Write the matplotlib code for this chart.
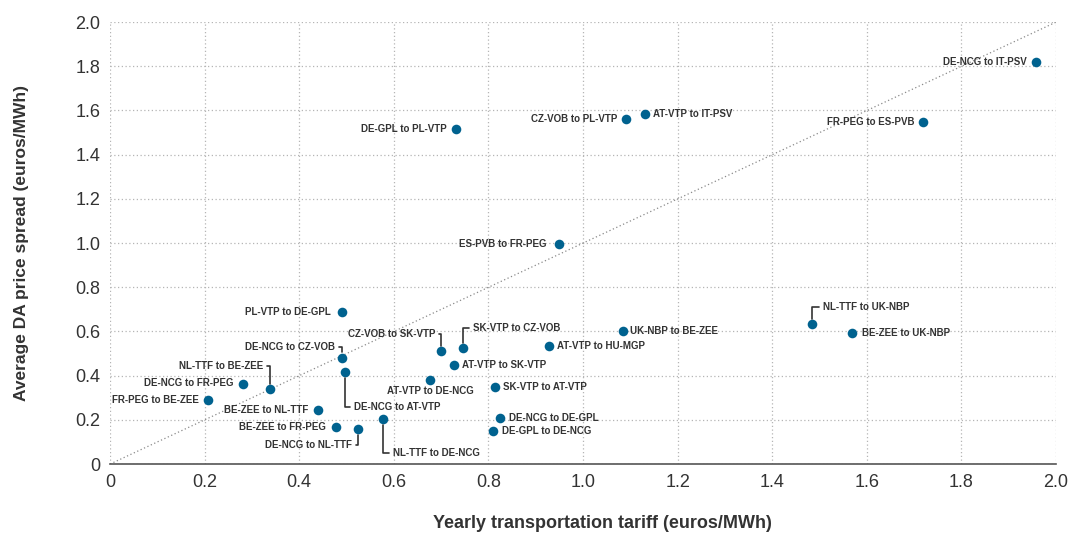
import matplotlib.pyplot as plt

plt.rcParams['font.family'] = ['Liberation Sans', 'DejaVu Sans']

# data: yearly tariff (x) vs average day-ahead spread (y)
routes = ['DE-NCG to IT-PSV', 'FR-PEG to ES-PVB', 'AT-VTP to IT-PSV', 'CZ-VOB to PL-VTP',
          'DE-GPL to PL-VTP', 'ES-PVB to FR-PEG', 'PL-VTP to DE-GPL', 'NL-TTF to UK-NBP',
          'BE-ZEE to UK-NBP', 'UK-NBP to BE-ZEE', 'AT-VTP to HU-MGP', 'SK-VTP to CZ-VOB',
          'CZ-VOB to SK-VTP', 'DE-NCG to CZ-VOB', 'AT-VTP to SK-VTP', 'DE-NCG to AT-VTP',
          'AT-VTP to DE-NCG', 'NL-TTF to BE-ZEE', 'DE-NCG to FR-PEG', 'SK-VTP to AT-VTP',
          'FR-PEG to BE-ZEE', 'BE-ZEE to NL-TTF', 'DE-NCG to DE-GPL', 'NL-TTF to DE-NCG',
          'BE-ZEE to FR-PEG', 'DE-NCG to NL-TTF', 'DE-GPL to DE-NCG']
tariff = [1.958, 1.719, 1.131, 1.091, 0.731, 0.949, 0.490, 1.484, 1.569, 1.085, 0.928, 0.746,
          0.700, 0.490, 0.727, 0.497, 0.677, 0.338, 0.281, 0.814, 0.207, 0.440, 0.825, 0.577,
          0.478, 0.524, 0.810]
spread = [1.819, 1.548, 1.584, 1.561, 1.516, 0.995, 0.688, 0.633, 0.593, 0.602, 0.534, 0.525,
          0.511, 0.480, 0.448, 0.416, 0.380, 0.339, 0.362, 0.348, 0.290, 0.244, 0.208, 0.204,
          0.167, 0.158, 0.149]

# label placement: (dx px, dy px, ha, leader)
place = {
    'DE-NCG to IT-PSV': (-9, 0, 'right', False), 'FR-PEG to ES-PVB': (-9, 0, 'right', False),
    'AT-VTP to IT-PSV': (8, 0, 'left', False), 'CZ-VOB to PL-VTP': (-9, 0, 'right', False),
    'DE-GPL to PL-VTP': (-9, 0, 'right', False), 'ES-PVB to FR-PEG': (-12, 0, 'right', False),
    'PL-VTP to DE-GPL': (-11, 0, 'right', False), 'NL-TTF to UK-NBP': (11, 17, 'left', True),
    'BE-ZEE to UK-NBP': (10, 0, 'left', False), 'UK-NBP to BE-ZEE': (7, 0, 'left', False),
    'AT-VTP to HU-MGP': (8, 0, 'left', False), 'SK-VTP to CZ-VOB': (10, 20, 'left', True),
    'CZ-VOB to SK-VTP': (-6, 17, 'right', True), 'DE-NCG to CZ-VOB': (-7, 11, 'right', True),
    'AT-VTP to SK-VTP': (8, 0, 'left', False), 'DE-NCG to AT-VTP': (9, -35, 'left', True),
    'AT-VTP to DE-NCG': (0, -11, 'center', False), 'NL-TTF to BE-ZEE': (-7, 23, 'right', True),
    'DE-NCG to FR-PEG': (-9, 1, 'right', False), 'SK-VTP to AT-VTP': (8, 0, 'left', False),
    'FR-PEG to BE-ZEE': (-9, 0, 'right', False), 'BE-ZEE to NL-TTF': (-10, 0, 'right', False),
    'DE-NCG to DE-GPL': (9, 0, 'left', False), 'NL-TTF to DE-NCG': (10, -34, 'left', True),
    'BE-ZEE to FR-PEG': (-10, 0, 'right', False), 'DE-NCG to NL-TTF': (-6, -16, 'right', True),
    'DE-GPL to DE-NCG': (9, 0, 'left', False),
}

fig = plt.figure(figsize=(10.7, 5.39), dpi=100)
ax = fig.add_axes([0.1028, 0.139, 0.8842, 0.82])

ax.plot([0, 2], [0, 2], linestyle=(0, (1, 2)), color='#8a8a8a', lw=0.9, zorder=1)
ax.scatter(tariff, spread, s=48, color='#00628f', zorder=3, linewidths=0)

for name, x, y in zip(routes, tariff, spread):
    dx, dy, ha, leader = place[name]
    kw = {}
    if leader:
        kw['arrowprops'] = dict(arrowstyle='-', color='#333333', lw=1.2,
                                connectionstyle='angle,angleA=0,angleB=90,rad=0',
                                relpos=(1, 0.5) if ha == 'right' else (0, 0.5),
                                shrinkA=1, shrinkB=4)
    ax.annotate(name, (x, y), xytext=(dx, dy), textcoords='offset pixels',
                ha=ha, va='center', fontsize=7, fontweight='bold', color='#333333', **kw)

ticks = [0, 0.2, 0.4, 0.6, 0.8, 1.0, 1.2, 1.4, 1.6, 1.8, 2.0]
ticklabels = ['0'] + [f'{t:.1f}' for t in ticks[1:]]
ax.set_xlim(0, 2.0)
ax.set_ylim(0, 2.0)
ax.set_xticks(ticks, ticklabels)
ax.set_yticks(ticks, ticklabels)
ax.tick_params(length=0, labelsize=13, labelcolor='#333333', pad=7)
ax.grid(True, linestyle=(0, (1, 2)), color='#b5b5b5', lw=0.9)
ax.set_axisbelow(True)
for s in ['top', 'right', 'left']:
    ax.spines[s].set_visible(False)
ax.spines['bottom'].set_color('#555555')
ax.spines['bottom'].set_linewidth(1.2)

ax.set_xlabel('Yearly transportation tariff (euros/MWh)', fontsize=13, fontweight='bold',
              color='#333333', labelpad=17)
ax.xaxis.set_label_coords(0.52, -0.115)
ax.set_ylabel('Average DA price spread (euros/MWh)', fontsize=12.5, fontweight='bold',
              color='#333333', labelpad=33)

fig.savefig('out.png', dpi=100)
